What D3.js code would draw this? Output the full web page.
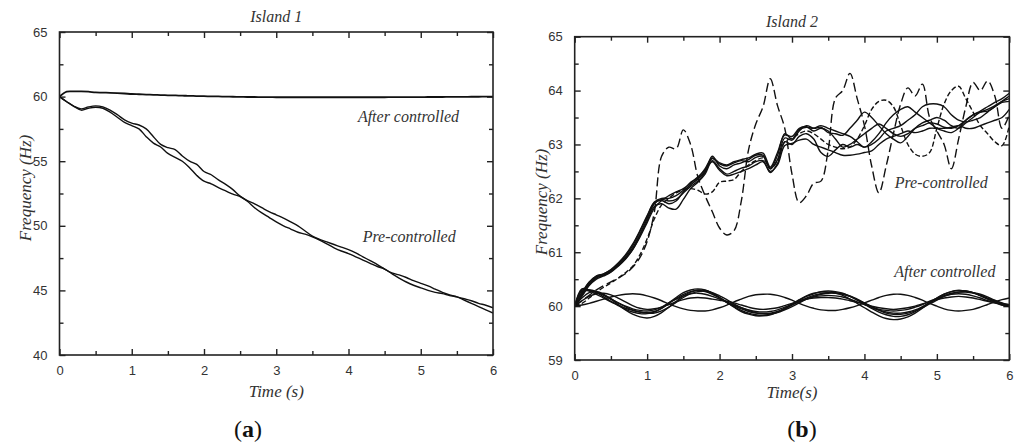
<!DOCTYPE html>
<html><head><meta charset="utf-8">
<script src="https://cdn.jsdelivr.net/npm/d3@7/dist/d3.min.js"></script>
<style>
html,body{margin:0;padding:0;background:#fff;}
svg{display:block;}
.tick-label{font-family:"Liberation Sans",Arial,sans-serif;font-size:13px;fill:#333;}
.it{font-family:"Liberation Serif","Times New Roman",serif;font-style:italic;fill:#333;}
</style>
</head><body>
<svg id="chart" width="1024" height="448"></svg>
<script>
// ---------- DATA ----------
const time = [0,0.1,0.2,0.3,0.4,0.5,0.6,0.7,0.8,0.9,1,1.1,1.2,1.3,1.4,1.5,1.6,1.7,1.8,1.9,2,2.1,2.2,2.3,2.4,2.5,2.6,2.7,2.8,2.9,3,3.1,3.2,3.3,3.4,3.5,3.6,3.7,3.8,3.9,4,4.1,4.2,4.3,4.4,4.5,4.6,4.7,4.8,4.9,5,5.1,5.2,5.3,5.4,5.5,5.6,5.7,5.8,5.9,6];

const xTicks = [0,1,2,3,4,5,6];
const yTicks1 = [40,45,50,55,60,65];
const yTicks2 = [59,60,61,62,63,64,65];

// Island 1
const island1After = [60,60.38,60.4,60.4,60.38,60.32,60.31,60.29,60.27,60.24,60.2,60.18,60.16,60.14,60.12,60.1,60.09,60.07,60.06,60.04,60.03,60.02,60.01,60.0,59.99,59.98,59.97,59.97,59.96,59.96,59.95,59.95,59.95,59.95,59.95,59.95,59.95,59.95,59.95,59.95,59.95,59.95,59.95,59.95,59.95,59.95,59.96,59.96,59.96,59.96,59.96,59.97,59.97,59.97,59.98,59.98,59.98,59.99,59.99,60.0,60.0];
const island1PreA = [60,59.6,59.25,59.05,59.2,59.28,59.2,58.95,58.6,58.2,57.95,57.8,57.5,56.9,56.3,56.05,55.9,55.4,55.0,54.75,54.2,53.95,53.55,53.2,52.8,52.3,51.95,51.7,51.4,51.1,50.85,50.6,50.3,50.0,49.6,49.2,48.95,48.75,48.55,48.35,48.15,47.9,47.6,47.3,47.0,46.65,46.35,46.2,46.0,45.75,45.55,45.35,45.1,44.85,44.65,44.5,44.35,44.2,44.0,43.85,43.65];
const island1PreB = [60,59.6,59.25,58.95,59.1,59.18,59.1,58.8,58.4,58.0,57.75,57.5,56.9,56.4,56.1,55.6,55.3,55.0,54.5,53.9,53.45,53.25,52.95,52.7,52.45,52.25,51.9,51.4,51.0,50.65,50.3,50.0,49.75,49.5,49.35,49.15,48.9,48.6,48.3,48.05,47.85,47.6,47.35,47.1,46.85,46.65,46.3,45.95,45.65,45.4,45.2,45.0,44.85,44.75,44.6,44.5,44.25,44.0,43.75,43.5,43.25];

// Island 2 – after controlled
const after2C1 = [60,60.3,60.28,60.22,60.15,60.08,60.02,59.96,59.92,59.89,59.88,59.9,59.96,60.05,60.14,60.22,60.27,60.29,60.27,60.22,60.15,60.08,60.01,59.95,59.9,59.87,59.86,59.87,59.9,59.95,60.02,60.09,60.15,60.2,60.23,60.25,60.25,60.23,60.19,60.13,60.06,59.99,59.93,59.89,59.87,59.87,59.89,59.93,59.99,60.06,60.13,60.19,60.24,60.26,60.26,60.24,60.2,60.15,60.1,60.05,60.01];
const after2C2 = [60,60.32,60.3,60.25,60.17,60.09,60.01,59.94,59.89,59.86,59.86,59.89,59.96,60.06,60.16,60.25,60.3,60.32,60.3,60.24,60.16,60.07,59.99,59.92,59.87,59.84,59.83,59.85,59.89,59.95,60.03,60.11,60.18,60.23,60.27,60.28,60.27,60.24,60.18,60.11,60.03,59.96,59.89,59.84,59.81,59.81,59.84,59.9,59.98,60.07,60.15,60.22,60.27,60.29,60.28,60.25,60.2,60.14,60.08,60.03,60.0];
const after2C3 = [60,60.28,60.29,60.26,60.2,60.13,60.06,60.0,59.95,59.92,59.91,59.93,59.98,60.06,60.13,60.19,60.23,60.24,60.22,60.18,60.13,60.07,60.02,59.97,59.93,59.9,59.89,59.9,59.93,59.98,60.03,60.08,60.13,60.17,60.19,60.2,60.19,60.17,60.13,60.08,60.03,59.98,59.94,59.92,59.91,59.92,59.94,59.98,60.03,60.09,60.14,60.19,60.22,60.23,60.22,60.19,60.15,60.1,60.06,60.02,60.0];
const after2C4 = [60,60.25,60.3,60.27,60.21,60.14,60.06,59.99,59.93,59.89,59.87,59.87,59.91,59.98,60.07,60.16,60.23,60.27,60.28,60.25,60.19,60.12,60.04,59.97,59.92,59.88,59.86,59.86,59.88,59.93,59.99,60.06,60.13,60.18,60.22,60.24,60.24,60.22,60.18,60.12,60.05,59.98,59.92,59.87,59.85,59.85,59.87,59.91,59.97,60.04,60.11,60.18,60.23,60.26,60.27,60.25,60.22,60.17,60.11,60.06,60.02];
const after2C5 = [60,60.15,60.25,60.27,60.22,60.13,60.03,59.93,59.85,59.8,59.78,59.81,59.88,59.98,60.09,60.19,60.26,60.3,60.29,60.24,60.16,60.07,59.98,59.9,59.85,59.82,59.82,59.84,59.89,59.96,60.04,60.12,60.19,60.24,60.26,60.26,60.24,60.2,60.13,60.05,59.97,59.89,59.82,59.77,59.75,59.76,59.8,59.87,59.96,60.06,60.15,60.22,60.27,60.29,60.28,60.25,60.19,60.13,60.07,60.02,59.99];
const after2C6 = [60,60.02,60.05,60.09,60.13,60.17,60.2,60.22,60.23,60.22,60.19,60.15,60.1,60.04,59.99,59.95,59.92,59.91,59.91,59.93,59.97,60.02,60.08,60.13,60.18,60.21,60.22,60.22,60.2,60.16,60.11,60.05,60.0,59.96,59.93,59.92,59.92,59.94,59.97,60.01,60.06,60.11,60.16,60.2,60.22,60.22,60.2,60.16,60.11,60.05,60.0,59.95,59.92,59.91,59.92,59.94,59.98,60.03,60.08,60.12,60.15];
const after2C7 = [60,60.1,60.18,60.23,60.24,60.21,60.15,60.08,60.01,59.96,59.94,59.95,59.98,60.03,60.08,60.12,60.15,60.16,60.15,60.13,60.11,60.09,60.06,60.02,59.98,59.95,59.94,59.95,59.97,60.01,60.05,60.09,60.13,60.15,60.16,60.16,60.15,60.13,60.1,60.07,60.04,60.0,59.97,59.95,59.94,59.95,59.97,60.0,60.04,60.08,60.12,60.15,60.17,60.18,60.17,60.15,60.12,60.09,60.06,60.04,60.03];

// Island 2 – pre-controlled
const pre2S1 = [60,60.22,60.42,60.54,60.58,60.65,60.76,60.9,61.08,61.33,61.62,61.9,61.98,61.95,61.98,62.1,62.22,62.32,62.48,62.74,62.64,62.6,62.66,62.7,62.68,62.76,62.78,62.55,62.72,63.12,63.08,63.25,63.35,63.3,63.32,63.22,63.2,63.17,63.3,63.45,63.6,63.5,63.35,63.2,63.1,63.03,63.15,63.3,63.4,63.45,63.5,63.45,63.35,63.3,63.4,63.5,63.6,63.62,63.7,63.8,63.9];
const pre2S2 = [60,60.25,60.45,60.55,60.6,60.67,60.78,60.93,61.12,61.38,61.66,61.92,61.96,61.9,61.95,62.12,62.25,62.36,62.5,62.78,62.6,62.55,62.62,62.66,62.72,62.8,62.8,62.56,62.8,63.2,63.1,63.28,63.32,63.3,63.35,63.3,63.25,63.2,63.15,63.05,62.95,63.05,63.2,63.4,63.55,63.65,63.7,63.6,63.5,63.4,63.3,63.25,63.22,63.3,63.45,63.55,63.6,63.65,63.72,63.8,63.85];
const pre2S3 = [60,60.2,60.4,60.52,60.57,60.64,60.75,60.88,61.05,61.3,61.58,61.85,61.9,61.82,61.8,61.98,62.18,62.3,62.45,62.7,62.55,62.45,62.5,62.56,62.6,62.68,62.7,62.48,62.65,63.05,63.0,63.15,63.2,63.1,62.85,62.78,62.9,63.0,62.95,63.0,62.95,63.0,63.1,63.25,63.3,63.35,63.45,63.55,63.7,63.75,63.75,63.7,63.55,63.45,63.42,63.45,63.5,63.6,63.7,63.78,63.8];
const pre2S4 = [60,60.18,60.38,60.5,60.56,60.63,60.74,60.87,61.05,61.28,61.55,61.82,61.96,62.05,62.12,62.18,62.28,62.4,62.52,62.68,62.52,62.42,62.45,62.5,62.55,62.62,62.68,62.5,62.62,62.98,63.02,63.08,63.1,63.0,62.95,62.9,62.85,62.8,62.8,62.82,62.85,62.88,63.0,63.1,63.15,63.2,63.25,63.22,63.25,63.3,63.3,63.3,63.32,63.35,63.3,63.3,63.35,63.4,63.45,63.5,63.65];
const pre2S5 = [60,60.24,60.44,60.56,60.6,60.68,60.8,60.95,61.15,61.4,61.68,61.93,62.0,62.0,62.05,62.15,62.3,62.38,62.55,62.75,62.66,62.62,62.68,62.72,62.75,62.82,62.84,62.58,62.85,63.18,63.15,63.3,63.33,63.25,63.3,63.25,63.1,62.95,63.0,63.1,63.2,63.3,63.38,63.3,63.2,63.15,63.2,63.3,63.35,63.4,63.38,63.32,63.3,63.35,63.45,63.55,63.62,63.7,63.78,63.85,63.95];
const pre2D1 = [60,60.1,60.2,60.3,60.38,60.45,60.52,60.6,60.72,60.9,61.2,61.75,62.78,62.95,62.92,63.27,63.0,62.4,62.05,61.75,61.45,61.32,61.4,61.95,62.9,63.38,63.7,64.22,63.72,63.3,62.45,61.92,62.05,62.28,62.32,62.9,63.86,64.0,64.32,63.85,63.35,62.6,62.1,62.6,63.2,63.75,64.05,63.9,64.12,63.5,63.25,63.0,62.55,63.1,63.7,64.15,64.0,64.18,63.9,63.3,63.55];
const pre2D2 = [60,60.05,60.15,60.26,60.35,60.43,60.52,60.62,60.74,60.95,61.25,61.62,61.88,62.0,62.1,62.16,62.18,62.15,62.08,62.12,62.3,62.32,62.35,62.5,62.62,62.7,62.75,62.55,62.7,63.05,63.12,63.2,63.25,63.2,63.1,63.0,62.95,62.92,62.95,63.1,63.35,63.65,63.8,63.82,63.7,63.35,63.0,62.82,62.78,62.85,63.3,63.75,64.0,64.08,63.85,63.6,63.35,63.2,63.05,62.98,63.35];

// ---------- DRAW ----------
const svg = d3.select("#chart");

function panel(cfg){
  const x = d3.scaleLinear().domain([0,6]).range([cfg.x0,cfg.x1]);
  const y = d3.scaleLinear().domain(cfg.yDomain).range([cfg.y1,cfg.y0]);
  const g = svg.append("g");
  const clipId = "clip"+cfg.id;
  svg.append("defs").append("clipPath").attr("id",clipId)
    .append("rect").attr("x",cfg.x0).attr("y",cfg.y0).attr("width",cfg.x1-cfg.x0).attr("height",cfg.y1-cfg.y0);

  const xMinor = [0.5,1.5,2.5,3.5,4.5,5.5];
  const yMinor = cfg.yMinor;

  const axB = d3.axisBottom(x).tickValues(xTicks).tickSize(-6).tickPadding(11).tickFormat(d3.format("d"));
  const axT = d3.axisTop(x).tickValues(xTicks).tickSize(-6).tickFormat("");
  const axL = d3.axisLeft(y).tickValues(cfg.yTicks).tickSize(-6).tickPadding(12).tickFormat(d3.format("d"));
  const axR = d3.axisRight(y).tickValues(cfg.yTicks).tickSize(-6).tickFormat("");
  const mB = d3.axisBottom(x).tickValues(xMinor).tickSize(-4).tickFormat("");
  const mT = d3.axisTop(x).tickValues(xMinor).tickSize(-4).tickFormat("");
  const mL = d3.axisLeft(y).tickValues(yMinor).tickSize(-4).tickFormat("");
  const mR = d3.axisRight(y).tickValues(yMinor).tickSize(-4).tickFormat("");

  function put(ax, tr){
    const a = g.append("g").attr("transform",tr).call(ax);
    a.select(".domain").remove();
    a.selectAll(".tick line").attr("stroke","#222").attr("stroke-width",1.4);
    a.selectAll(".tick text").attr("class","tick-label").attr("font-family",null).attr("font-size",null).attr("fill",null);
    return a;
  }
  put(axB,`translate(0,${cfg.y1})`);
  put(axT,`translate(0,${cfg.y0})`);
  put(axL,`translate(${cfg.x0},0)`);
  put(axR,`translate(${cfg.x1},0)`);
  put(mB,`translate(0,${cfg.y1})`);
  put(mT,`translate(0,${cfg.y0})`);
  put(mL,`translate(${cfg.x0},0)`);
  put(mR,`translate(${cfg.x1},0)`);

  const line = d3.line().x((d,i)=>x(time[i])).y(d=>y(d)).curve(d3.curveCatmullRom.alpha(0.5));
  const lg = g.append("g").attr("clip-path",`url(#${clipId})`);
  cfg.series.forEach(s=>{
    lg.append("path").attr("d",line(s.values)).attr("fill","none")
      .attr("stroke","#111").attr("stroke-width",s.w||1.4)
      .attr("stroke-dasharray",s.dash||null).attr("stroke-linejoin","round");
  });

  g.append("rect").attr("x",cfg.x0).attr("y",cfg.y0).attr("width",cfg.x1-cfg.x0).attr("height",cfg.y1-cfg.y0)
    .attr("fill","none").attr("stroke","#222").attr("stroke-width",1.6);

  g.append("text").attr("class","it").attr("x",(cfg.x0+cfg.x1)/2).attr("y",cfg.titleY)
    .attr("text-anchor","middle").attr("font-size",16).text(cfg.title);
  g.append("text").attr("class","it").attr("x",(cfg.x0+cfg.x1)/2).attr("y",cfg.xLabelY)
    .attr("text-anchor","middle").attr("font-size",17).text(cfg.xLabel);
  g.append("text").attr("class","it").attr("transform",`translate(${cfg.yLabelX},${cfg.yLabelCY}) rotate(-90)`)
    .attr("text-anchor","middle").attr("font-size",17).text("Frequency (Hz)");
  cfg.notes.forEach(n=>{
    g.append("text").attr("class","it").attr("x",x(n.t)).attr("y",y(n.v))
      .attr("text-anchor","middle").attr("font-size",16).text(n.text);
  });
  g.append("text").attr("x",cfg.tagX).attr("y",437).attr("text-anchor","middle")
    .attr("font-family","'Liberation Serif','Times New Roman',serif").attr("font-size",24)
    .attr("fill","#111").html(`(<tspan font-weight="bold">${cfg.tag}</tspan>)`);
}

panel({
  id:1, x0:59.5, x1:493, y0:32, y1:355, yDomain:[40,65], yTicks:yTicks1,
  yMinor:[42.5,47.5,52.5,57.5,62.5],
  title:"Island 1", titleY:22, xLabel:"Time (s)", xLabelY:397, yLabelX:31, yLabelCY:188,
  tagX:248, tag:"a",
  series:[
    {values:island1After, w:1.8},
    {values:island1PreA},
    {values:island1PreB}
  ],
  notes:[{t:4.83,v:58.04,text:"After controlled"},{t:4.84,v:48.74,text:"Pre-controlled"}]
});

panel({
  id:2, x0:574.7, x1:1009.3, y0:36.7, y1:360, yDomain:[59,65], yTicks:yTicks2,
  yMinor:[59.5,60.5,61.5,62.5,63.5,64.5],
  title:"Island 2", titleY:27, xLabel:"Time(s)", xLabelY:398, yLabelX:547, yLabelCY:202,
  tagX:802, tag:"b",
  series:[
    {values:after2C1},{values:after2C2},{values:after2C3},{values:after2C4},
    {values:after2C5},{values:after2C6},{values:after2C7},
    {values:pre2S1},{values:pre2S2},{values:pre2S3},{values:pre2S4},{values:pre2S5},
    {values:pre2D1, dash:"9,4"},
    {values:pre2D2, dash:"5,2.5"}
  ],
  notes:[{t:5.06,v:62.2,text:"Pre-controlled"},{t:5.11,v:60.54,text:"After controlled"}]
});
</script>
</body></html>
